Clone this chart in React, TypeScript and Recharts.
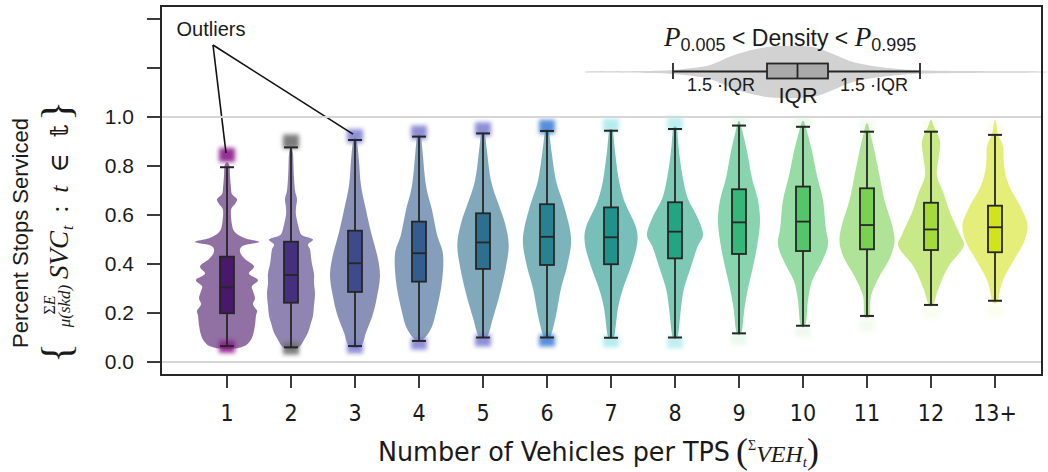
import React from "react";
import { Bar, ComposedChart, ReferenceLine, XAxis, YAxis } from "recharts";

// category labels (vehicles per TPS)
const categories = ["1", "2", "3", "4", "5", "6", "7", "8", "9", "10", "11", "12", "13+"];

// box plot statistics
const whiskerLow = [0.065, 0.06, 0.065, 0.086, 0.1, 0.1, 0.099, 0.1, 0.117, 0.148, 0.188, 0.233, 0.25];
const q1 = [0.199, 0.242, 0.286, 0.328, 0.38, 0.396, 0.399, 0.423, 0.441, 0.453, 0.46, 0.457, 0.448];
const medians = [0.305, 0.355, 0.403, 0.444, 0.488, 0.511, 0.509, 0.532, 0.57, 0.573, 0.559, 0.541, 0.55];
const q3 = [0.43, 0.491, 0.536, 0.573, 0.607, 0.644, 0.631, 0.652, 0.705, 0.716, 0.709, 0.65, 0.638];
const whiskerHigh = [0.795, 0.876, 0.906, 0.92, 0.933, 0.943, 0.944, 0.951, 0.965, 0.96, 0.94, 0.94, 0.927];
const outlierHigh = [0.845, 0.9, 0.922, 0.937, 0.95, 0.96, 0.965, 0.972, 0.975, 0.975, 0.96, 0.96, 0.95];
const outlierLow = [0.062, 0.055, 0.06, 0.075, 0.088, 0.088, 0.085, 0.08, 0.095, 0.125, 0.15, 0.2, 0.21];

// violin outlines: [value, relative density]  (32 = full half band)
const violin1 = [[0.052, 0], [0.056, 10], [0.066, 18], [0.085, 23], [0.11, 26], [0.15, 28], [0.19, 29], [0.21, 30], [0.235, 26], [0.26, 28], [0.29, 26], [0.31, 25], [0.335, 31], [0.36, 22], [0.39, 27], [0.42, 18], [0.45, 13], [0.475, 16], [0.49, 32], [0.505, 18], [0.53, 8], [0.56, 5], [0.62, 4], [0.645, 8], [0.665, 10], [0.685, 5], [0.71, 4], [0.76, 3], [0.8, 2.5], [0.815, 0]];
const violin2 = [[0.05, 0], [0.06, 8], [0.09, 13], [0.12, 17], [0.16, 20], [0.19, 22], [0.23, 23], [0.28, 24], [0.32, 23], [0.36, 23], [0.4, 21], [0.43, 20], [0.46, 19], [0.48, 17], [0.5, 22], [0.515, 12], [0.53, 9], [0.56, 7], [0.6, 5], [0.63, 5], [0.665, 6], [0.7, 4], [0.75, 3], [0.8, 2.5], [0.85, 2], [0.88, 0]];
const violin3 = [[0.055, 0], [0.065, 6], [0.09, 9], [0.12, 11], [0.19, 17.5], [0.26, 21.7], [0.35, 25], [0.43, 22.5], [0.53, 16], [0.62, 11], [0.72, 6], [0.82, 4], [0.9, 2], [0.915, 0]];
const violin4 = [[0.08, 0], [0.09, 4], [0.14, 12.5], [0.22, 18], [0.33, 23], [0.44, 24], [0.52, 18], [0.62, 13], [0.72, 7], [0.86, 3.5], [0.92, 2], [0.93, 0]];
const violin5 = [[0.095, 0], [0.11, 5], [0.18, 10], [0.28, 17], [0.39, 23], [0.48, 25.7], [0.57, 21.7], [0.65, 15], [0.74, 8], [0.86, 4], [0.93, 2], [0.94, 0]];
const violin6 = [[0.095, 0], [0.11, 4], [0.19, 9], [0.3, 14], [0.39, 20], [0.48, 24], [0.55, 22.5], [0.65, 16], [0.74, 9], [0.86, 4.5], [0.94, 2], [0.95, 0]];
const violin7 = [[0.095, 0], [0.11, 3.5], [0.22, 7], [0.3, 12], [0.39, 20], [0.48, 26], [0.55, 25], [0.65, 14], [0.74, 8], [0.86, 4], [0.94, 2], [0.95, 0]];
const violin8 = [[0.095, 0], [0.11, 3], [0.22, 6], [0.3, 9], [0.39, 16], [0.47, 22.5], [0.52, 28], [0.59, 22.5], [0.67, 12.5], [0.76, 7.5], [0.86, 4], [0.95, 2], [0.96, 0]];
const violin9 = [[0.11, 0], [0.13, 3], [0.22, 5.5], [0.3, 9], [0.39, 14], [0.47, 18], [0.57, 21], [0.66, 19], [0.75, 13], [0.86, 8], [0.94, 3.5], [0.985, 0]];
const violin10 = [[0.14, 0], [0.16, 3], [0.25, 5], [0.33, 9], [0.41, 19], [0.48, 25], [0.55, 22.7], [0.66, 20], [0.76, 14], [0.86, 9], [0.94, 4], [0.985, 0]];
const violin11 = [[0.18, 0], [0.19, 3], [0.27, 4], [0.35, 12.5], [0.42, 22.5], [0.49, 27.5], [0.56, 25], [0.66, 17.5], [0.76, 12.5], [0.86, 7.5], [0.94, 3], [0.975, 0]];
const violin12 = [[0.225, 0], [0.24, 3], [0.3, 7.5], [0.39, 17.5], [0.47, 32.5], [0.52, 29], [0.61, 19], [0.69, 12.5], [0.76, 6], [0.83, 7.5], [0.9, 9], [0.96, 3], [0.99, 0]];
const violin13 = [[0.24, 0], [0.25, 3], [0.33, 7.5], [0.41, 18], [0.49, 29], [0.56, 32.5], [0.63, 26], [0.72, 14], [0.8, 9], [0.88, 8], [0.93, 3], [0.99, 0]];
const violins = [violin1, violin2, violin3, violin4, violin5, violin6, violin7, violin8, violin9, violin10, violin11, violin12, violin13];

const yTicks = [0, 0.2, 0.4, 0.6, 0.8, 1.0, 1.2, 1.4];

// styling
const boxColors = ["#4a1868", "#46307e", "#3e4a89", "#345d8f", "#2c6f8e", "#25828e", "#1f938b", "#23a584", "#35b779", "#54c568", "#7ad151", "#a5db36", "#d2e21b"];
const outlierColors = ["#8b1a8a", "#6e6e6e", "#7b7bd0", "#7b7bd0", "#7b7bd0", "#3a7ad6", "#30c8d0", "#30c8d0", "#60d080", "#80d080", "#a0dc80", "#c8e870", "#e0ec60"];
const outlierAlpha = [0.9, 0.9, 0.85, 0.85, 0.85, 0.85, 0.35, 0.3, 0.12, 0.12, 0.12, 0.1, 0.1];
const FRAME = "#262626";
const TEXT = "#1a1a1a";
const SANS = "'Liberation Sans', Arial, sans-serif";
const NARROW = "'Liberation Sans Narrow', 'DejaVu Sans Condensed', 'Liberation Sans', sans-serif";
const SERIF = "'Liberation Serif', 'DejaVu Serif', serif";
const DENSITY_FULL = 32;

// plot box
const W = 1048;
const H = 472;
const M = { top: 6, right: 6, bottom: 37, left: 101 };
const Y_AXIS_W = 60;
const X_AXIS_H = 60;

const rows = categories.map((cat, i) => ({
  cat,
  i,
  lo: violins[i][0][0],
  hi: violins[i][violins[i].length - 1][0],
}));

function smooth(pts: number[][]) {
  let d = `M${pts[0][0]},${pts[0][1]}`;
  for (let i = 0; i < pts.length - 1; i++) {
    const p0 = pts[i - 1] || pts[i];
    const p1 = pts[i];
    const p2 = pts[i + 1];
    const p3 = pts[i + 2] || p2;
    const c1x = p1[0] + (p2[0] - p0[0]) / 6;
    const c1y = p1[1] + (p2[1] - p0[1]) / 6;
    const c2x = p2[0] - (p3[0] - p1[0]) / 6;
    const c2y = p2[1] - (p3[1] - p1[1]) / 6;
    d += ` C${c1x},${c1y} ${c2x},${c2y} ${p2[0]},${p2[1]}`;
  }
  return d + " Z";
}

function ViolinShape(props: any) {
  const { x, y, width, height, payload } = props;
  if (x == null || !payload) return null;
  const i = payload.i;
  const top = Math.min(y, y + height);
  const bot = Math.max(y, y + height);
  const py = (v: number) => bot - ((v - payload.lo) / (payload.hi - payload.lo)) * (bot - top);
  const cx = x + width / 2;
  const k = width / 2 / DENSITY_FULL;
  const prof = violins[i];
  const right = prof.map(([v, d]) => [cx + d * k, py(v)]);
  const left = prof.slice(0, -1).reverse().map(([v, d]) => [cx - d * k, py(v)]);
  const color = boxColors[i];
  const bw = 14;
  const cw = 14;
  return (
    <g>
      <defs>
        <filter id="olBlur" x="-60%" y="-60%" width="220%" height="220%">
          <feGaussianBlur stdDeviation="2.2" />
        </filter>
        <filter id="vBlur" x="-10%" y="-10%" width="120%" height="120%">
          <feGaussianBlur stdDeviation="0.6" />
        </filter>
      </defs>
      <path d={smooth([...right, ...left])} fill={color} fillOpacity={0.6} filter="url(#vBlur)" />
      <rect x={cx - 8} y={py(outlierHigh[i]) - 7} width={16} height={14} fill={outlierColors[i]} opacity={outlierAlpha[i]} filter="url(#olBlur)" />
      <rect x={cx - 8} y={py(outlierLow[i]) - 6} width={16} height={12} fill={outlierColors[i]} opacity={outlierAlpha[i]} filter="url(#olBlur)" />
      <line x1={cx} x2={cx} y1={py(whiskerLow[i])} y2={py(whiskerHigh[i])} stroke={FRAME} strokeWidth={1.8} />
      <line x1={cx - cw / 2} x2={cx + cw / 2} y1={py(whiskerLow[i])} y2={py(whiskerLow[i])} stroke={FRAME} strokeWidth={2} />
      <line x1={cx - cw / 2} x2={cx + cw / 2} y1={py(whiskerHigh[i])} y2={py(whiskerHigh[i])} stroke={FRAME} strokeWidth={2} />
      <rect x={cx - bw / 2} y={py(q3[i])} width={bw} height={py(q1[i]) - py(q3[i])} fill={color} stroke={FRAME} strokeWidth={1.8} />
      <line x1={cx - bw / 2} x2={cx + bw / 2} y1={py(medians[i])} y2={py(medians[i])} stroke={FRAME} strokeWidth={1.8} />
      {(i === 0 || i === 2) && (
        <line x1={213} y1={45} x2={cx - (i === 0 ? 1 : 2)} y2={py(outlierHigh[i]) - 2} stroke="#111" strokeWidth={1.6} />
      )}
    </g>
  );
}

// schematic violin for the inset key: [dx from centre, half height]
const keyProfile = [[-210, 0.6], [-150, 1], [-122, 2], [-95, 5], [-82, 8], [-58, 18], [-28, 25], [-5, 26], [18, 25], [38, 18], [58, 10], [85, 5], [118, 2], [165, 1], [245, 0.6]];

function Overlay() {
  const kx = 795;
  const ky = 72;
  const upper = keyProfile.map(([dx, h]) => [kx + dx, ky - h]);
  const lower = keyProfile.slice().reverse().map(([dx, h]) => [kx + dx, ky + h]);
  return (
    <svg width={W} height={H} style={{ position: "absolute", left: 0, top: 0, pointerEvents: "none", zIndex: 2 }}>
      {/* y axis title */}
      <text transform="translate(28,233) rotate(-90)" textAnchor="middle" fontFamily={SANS} fontSize={22} fill={TEXT}>
        Percent Stops Serviced
      </text>
      <g transform="translate(58,235) rotate(-90)" fill={TEXT} fontFamily={SERIF}>
        <text x={-118} y={12} fontSize={42} textAnchor="middle">{"{"}</text>
        <text x={-70} y={-3} fontSize={16} textAnchor="middle">
          Σ<tspan fontStyle="italic">E</tspan>
        </text>
        <text x={-71} y={12} fontSize={17} fontStyle="italic" textAnchor="middle">μ(skd)</text>
        <text x={-44} y={10} fontSize={27} fontStyle="italic">SVC</text>
        <text x={5} y={15} fontSize={16} fontStyle="italic">t</text>
        <text x={26} y={10} fontSize={26} textAnchor="middle">:</text>
        <text x={46} y={10} fontSize={26} fontStyle="italic" textAnchor="middle">t</text>
        <text x={72} y={10} fontSize={26} textAnchor="middle">∈</text>
        <text x={104} y={10} fontSize={26} textAnchor="middle">𝕥</text>
        <text x={124} y={12} fontSize={42} textAnchor="middle">{"}"}</text>
      </g>

      {/* x axis title */}
      <text x={378} y={461} fontFamily={NARROW} fontSize={26} fill={TEXT} textLength={352} lengthAdjust="spacingAndGlyphs">
        Number of Vehicles per TPS
      </text>
      <text x={736} y={463} fontFamily={SERIF} fill={TEXT}>
        <tspan fontSize={36}>(</tspan>
        <tspan fontSize={14} dy={-13}>Σ</tspan>
        <tspan fontSize={24} fontStyle="italic" dy={12}>VEH</tspan>
        <tspan fontSize={15} fontStyle="italic" dy={5}>t</tspan>
        <tspan fontSize={36} dy={-4}>)</tspan>
      </text>

      {/* outliers annotation */}
      <text x={211} y={36} textAnchor="middle" fontFamily={SANS} fontSize={20} fill={TEXT}>
        Outliers
      </text>

      {/* inset key */}
      <path d={smooth([...upper, ...lower])} fill="#d2d2d2" />
      <text x={664} y={46} fill={TEXT}>
        <tspan fontFamily={SERIF} fontStyle="italic" fontSize={27}>P</tspan>
        <tspan fontFamily={SANS} fontSize={18} dy={5}>0.005</tspan>
        <tspan fontFamily={SANS} fontSize={23} dy={-5}> {"<"} Density {"<"} </tspan>
        <tspan fontFamily={SERIF} fontStyle="italic" fontSize={27}>P</tspan>
        <tspan fontFamily={SANS} fontSize={18} dy={5}>0.995</tspan>
      </text>
      <line x1={673} x2={920} y1={71.5} y2={71.5} stroke={FRAME} strokeWidth={1.8} />
      <line x1={673} x2={673} y1={63} y2={79} stroke={FRAME} strokeWidth={1.8} />
      <line x1={920} x2={920} y1={63} y2={79} stroke={FRAME} strokeWidth={1.8} />
      <rect x={767} y={63.5} width={61} height={15} fill="#a9a9a9" stroke={FRAME} strokeWidth={1.8} />
      <line x1={797.5} x2={797.5} y1={63.5} y2={78.5} stroke={FRAME} strokeWidth={1.8} />
      <text x={721} y={91} textAnchor="middle" fontFamily={SANS} fontSize={18} fill={TEXT}>1.5 ·IQR</text>
      <text x={874} y={91} textAnchor="middle" fontFamily={SANS} fontSize={18} fill={TEXT}>1.5 ·IQR</text>
      <text x={798} y={103} textAnchor="middle" fontFamily={SANS} fontSize={22} fill={TEXT}>IQR</text>
    </svg>
  );
}

export default function App() {
  const plotLeft = M.left + Y_AXIS_W;
  const plotRight = W - M.right;
  const plotBottom = H - M.bottom - X_AXIS_H;
  return (
    <div style={{ position: "absolute", left: 0, top: 0, width: W, height: H, background: "#fff" }}>
      <ComposedChart width={W} height={H} data={rows} margin={M} barCategoryGap={0}>
        <XAxis
          dataKey="cat"
          interval={0}
          padding={{ left: 34, right: 15 }}
          height={X_AXIS_H}
          tickSize={13}
          tickMargin={17}
          axisLine={{ stroke: FRAME, strokeWidth: 2 }}
          tickLine={{ stroke: FRAME, strokeWidth: 1.8 }}
          tick={{ fontSize: 23, fontFamily: NARROW, fill: TEXT }}
        />
        <YAxis
          type="number"
          domain={[-0.053, 1.453]}
          allowDataOverflow
          ticks={yTicks}
          interval={0}
          width={Y_AXIS_W}
          tickSize={14}
          tickMargin={13}
          tickFormatter={(v: number) => (v > 1.001 ? "" : v.toFixed(1))}
          axisLine={{ stroke: FRAME, strokeWidth: 2 }}
          tickLine={{ stroke: FRAME, strokeWidth: 1.8 }}
          tick={{ fontSize: 21, fontFamily: SANS, fill: TEXT }}
        />
        <ReferenceLine y={0} stroke="#d6d6d6" strokeWidth={2} />
        <ReferenceLine y={1} stroke="#d6d6d6" strokeWidth={2} />
        <Bar dataKey={(d: any) => [d.lo, d.hi]} shape={ViolinShape} isAnimationActive={false} />
      </ComposedChart>
      <Overlay />
      {/* plot frame as a plain bordered box */}
      <div
        style={{
          position: "absolute",
          left: plotLeft - 1,
          top: M.top - 1,
          width: plotRight - plotLeft + 2,
          height: plotBottom - M.top + 2,
          boxSizing: "border-box",
          border: `2px solid ${FRAME}`,
          pointerEvents: "none",
          zIndex: 3,
        }}
      />
    </div>
  );
}
